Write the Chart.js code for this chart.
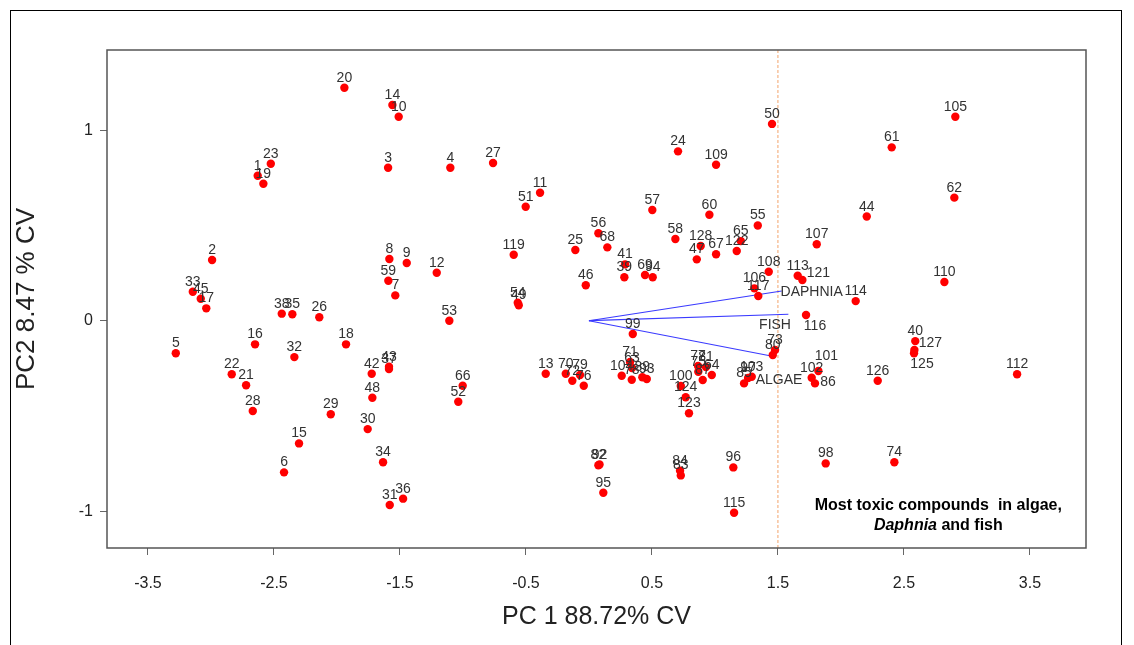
<!DOCTYPE html>
<html>
<head>
<meta charset="utf-8">
<script src="https://cdn.jsdelivr.net/npm/chart.js@4.4.1/dist/chart.umd.min.js"></script>
<style>
  body { margin: 0; background: #fff; }
  #wrap { position: relative; width: 1134px; height: 645px; overflow: hidden; }
  #moldura { position: absolute; left: 10px; top: 10px; width: 1110px; height: 700px; border: 1px solid #000; }
  canvas { position: absolute; left: 0; top: 0; }
</style>
</head>
<body>
<div id="wrap">
  <div id="moldura"></div>
  <canvas id="biplot" width="1134" height="645"></canvas>
</div>
<script>
// compostos (scores PC1 / PC2)
const ids = [1,2,3,4,5,6,7,8,9,10,11,12,13,14,15,16,17,18,19,20,21,22,23,24,25,26,27,28,29,30,
  31,32,33,34,35,36,37,38,39,40,41,42,43,44,45,46,47,48,49,50,51,52,53,54,55,56,57,58,59,60,
  61,62,63,64,65,66,67,68,69,70,71,72,73,74,75,76,77,78,79,80,81,82,83,84,85,86,87,89,92,93,
  94,95,96,97,98,99,100,101,102,103,104,105,106,107,108,109,110,112,113,114,115,116,117,119,
  121,122,123,124,125,126,127,128];
const pc1 = [-2.629,-2.991,-1.594,-1.100,-3.279,-2.420,-1.537,-1.584,-1.446,-1.510,-0.388,-1.208,-0.343,-1.560,-2.301,-2.650,-3.037,-1.928,-2.584,-1.941,-2.721,-2.835,-2.525,0.707,-0.108,-2.140,-0.761,-2.668,-2.049,-1.756,
  -1.581,-2.338,-3.144,-1.634,-2.354,-1.475,-1.587,-2.438,0.281,2.590,0.287,-1.724,-1.587,2.205,-3.081,-0.025,0.856,-1.719,-0.557,1.453,-0.502,-1.037,-1.108,-0.565,1.340,0.075,0.503,0.686,-1.592,0.956,
  2.403,2.900,0.342,0.975,1.205,-1.002,1.009,0.146,0.445,-0.184,0.326,-0.132,1.477,2.424,0.868,-0.041,0.866,0.340,-0.071,1.459,0.929,0.075,0.729,0.723,1.231,1.794,0.903,0.424,0.084,0.459,
  0.506,0.114,1.146,1.263,1.879,0.348,0.729,1.821,1.768,1.292,0.260,2.908,1.313,1.808,1.427,1.009,2.821,3.398,1.657,2.117,1.152,1.723,1.344,-0.597,
  1.694,1.173,0.794,0.768,2.580,2.292,2.583,0.887];
const pc2 = [0.761,0.319,0.803,0.803,-0.171,-0.796,0.133,0.324,0.303,1.071,0.672,0.252,-0.278,1.132,-0.644,-0.124,0.065,-0.124,0.719,1.223,-0.339,-0.281,0.824,0.889,0.371,0.018,0.828,-0.474,-0.491,-0.569,
  -0.967,-0.191,0.152,-0.743,0.034,-0.934,-0.254,0.037,0.228,-0.107,0.296,-0.278,-0.241,0.547,0.115,0.186,0.322,-0.404,0.081,1.033,0.598,-0.425,0.000,0.094,0.500,0.459,0.581,0.429,0.210,0.556,
  0.910,0.646,-0.248,-0.285,0.418,-0.341,0.349,0.385,0.240,-0.278,-0.217,-0.315,-0.154,-0.743,-0.268,-0.341,-0.238,-0.310,-0.285,-0.180,-0.243,-0.759,-0.812,-0.787,-0.329,-0.329,-0.311,-0.297,-0.755,-0.306,
  0.228,-0.903,-0.770,-0.301,-0.749,-0.070,-0.343,-0.264,-0.299,-0.294,-0.289,1.071,0.170,0.401,0.257,0.819,0.203,-0.281,0.236,0.103,-1.008,0.030,0.130,0.346,
  0.214,0.366,-0.486,-0.402,-0.171,-0.315,-0.154,0.392];

// vetores (cargas)
const vetores = ['DAPHNIA', 'FISH', 'ALGAE'];
const vetorX = [1.530, 1.583, 1.477];
const vetorY = [0.156, 0.034, -0.189];
const rotuloX = [1.768, 1.477, 1.509];
const rotuloY = [0.151, -0.023, -0.311];

const xTicks = [-3.5, -2.5, -1.5, -0.5, 0.5, 1.5, 2.5, 3.5];
const yTicks = [-1, 0, 1];
const limiteToxico = 1.5;
const xMin = -3.825, xMax = 3.945;
const yMin = -1.193, yMax = 1.421;

const fonte = '"Liberation Sans", Arial, sans-serif';

// rotulos que nao ficam acima do ponto (deslocamento do centro, em px)
const deslocamento = { 116: [9, 10], 121: [16, -8], 127: [16, -8], 125: [8, 10], 86: [13, -2], 101: [8, -16] };

const pontos = ids.map((id, i) => ({ x: pc1[i], y: pc2[i] }));

const datasets = [
  {
    label: 'compostos',
    data: pontos,
    backgroundColor: '#ff0000',
    borderWidth: 0,
    pointRadius: 4.2,
    order: 1
  },
  {
    label: 'limite',
    data: [{ x: limiteToxico, y: yMin }, { x: limiteToxico, y: yMax }],
    showLine: true,
    borderColor: '#f3a46a',
    borderWidth: 1,
    borderDash: [3, 2],
    pointRadius: 0,
    order: 3
  }
];
vetores.forEach((v, i) => {
  datasets.push({
    label: v,
    data: [{ x: 0, y: 0 }, { x: vetorX[i], y: vetorY[i] }],
    showLine: true,
    borderColor: '#3a3aff',
    borderWidth: 1.2,
    pointRadius: 0,
    order: 2
  });
});

const rotulosPlugin = {
  id: 'rotulos',
  afterDatasetsDraw(chart) {
    const { ctx, chartArea, scales: { x, y } } = chart;
    ctx.save();
    // caixa do grafico
    ctx.strokeStyle = '#555';
    ctx.lineWidth = 1.5;
    ctx.strokeRect(chartArea.left, chartArea.top, chartArea.right - chartArea.left, chartArea.bottom - chartArea.top);

    // numeros dos compostos
    ctx.fillStyle = '#333';
    ctx.font = '14px ' + fonte;
    ctx.textAlign = 'center';
    ctx.textBaseline = 'alphabetic';
    const meta = chart.getDatasetMeta(0);
    meta.data.forEach((p, i) => {
      const d = deslocamento[ids[i]] || [0, -11];
      ctx.fillText(String(ids[i]), p.x + d[0], p.y + d[1] + 5);
    });

    // nomes dos vetores
    ctx.textBaseline = 'middle';
    vetores.forEach((v, i) => {
      ctx.fillText(v, x.getPixelForValue(rotuloX[i]), y.getPixelForValue(rotuloY[i]));
    });

    // anotacao
    ctx.fillStyle = '#000';
    const cx = x.getPixelForValue(2.773);
    ctx.font = 'bold 16px ' + fonte;
    ctx.fillText('Most toxic compounds  in algae,', cx, y.getPixelForValue(-0.973));
    const y2 = y.getPixelForValue(-1.076);
    const p1 = 'Daphnia', p2 = ' and fish';
    ctx.font = 'italic bold 16px ' + fonte;
    const w1 = ctx.measureText(p1).width;
    ctx.font = 'bold 16px ' + fonte;
    const w2 = ctx.measureText(p2).width;
    const inicio = cx - (w1 + w2) / 2;
    ctx.textAlign = 'left';
    ctx.font = 'italic bold 16px ' + fonte;
    ctx.fillText(p1, inicio, y2);
    ctx.font = 'bold 16px ' + fonte;
    ctx.fillText(p2, inicio + w1, y2);
    ctx.restore();
  }
};

new Chart(document.getElementById('biplot'), {
  type: 'scatter',
  data: { datasets },
  options: {
    responsive: false,
    animation: false,
    events: [],
    layout: { padding: { left: 0, right: 48, top: 50, bottom: 0 } },
    plugins: { legend: { display: false }, tooltip: { enabled: false } },
    scales: {
      x: {
        type: 'linear',
        min: xMin,
        max: xMax,
        afterFit: s => { s.height = 97; },
        afterBuildTicks: s => { s.ticks = xTicks.map(v => ({ value: v })); },
        border: { display: false },
        grid: { drawOnChartArea: false, drawTicks: true, tickLength: 7, color: '#666', lineWidth: 1 },
        ticks: {
          padding: 19,
          color: '#222',
          font: { family: fonte, size: 16 },
          callback: v => String(v)
        },
        title: {
          display: true,
          text: 'PC 1 88.72% CV',
          color: '#222',
          font: { family: fonte, size: 25 },
          padding: { top: 0, bottom: 13 }
        }
      },
      y: {
        type: 'linear',
        min: yMin,
        max: yMax,
        afterFit: s => { s.width = 107; },
        afterBuildTicks: s => { s.ticks = yTicks.map(v => ({ value: v })); },
        border: { display: false },
        grid: { drawOnChartArea: false, drawTicks: true, tickLength: 7, color: '#666', lineWidth: 1 },
        ticks: {
          padding: 7,
          color: '#222',
          font: { family: fonte, size: 16 },
          callback: v => String(v)
        },
        title: {
          display: true,
          text: 'PC2 8.47 % CV',
          color: '#222',
          font: { family: fonte, size: 26 },
          padding: { top: 11, bottom: 0 }
        }
      }
    }
  },
  plugins: [rotulosPlugin]
});
</script>
</body>
</html>
